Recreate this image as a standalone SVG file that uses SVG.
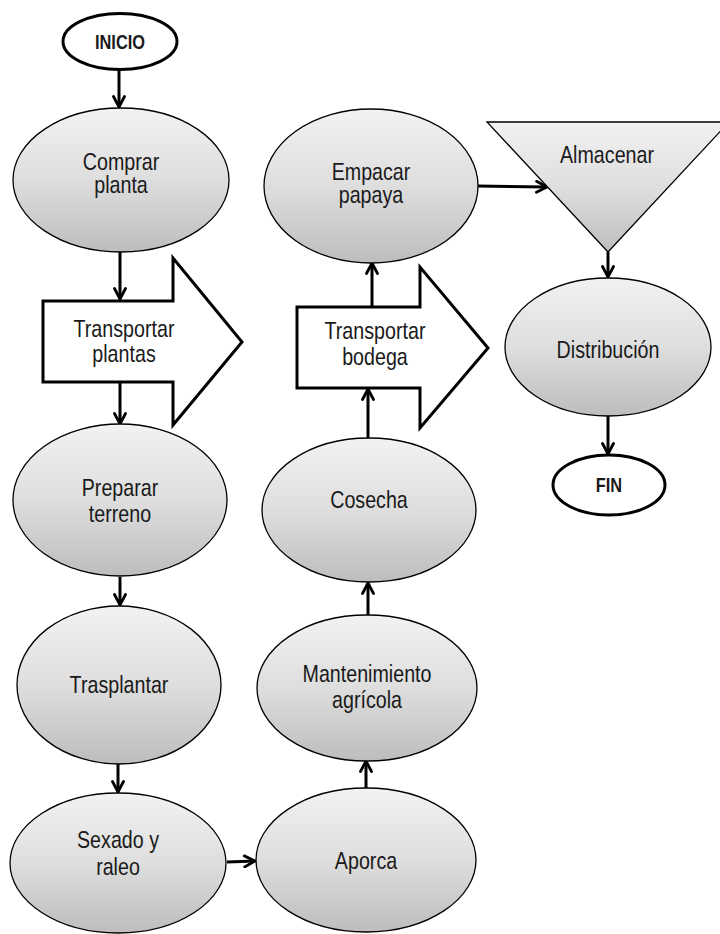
<svg xmlns="http://www.w3.org/2000/svg" width="720" height="934" viewBox="0 0 720 934">
<defs>
<linearGradient id="g" x1="0" y1="0" x2="0" y2="1">
<stop offset="0" stop-color="#f2f2f2"/>
<stop offset="0.5" stop-color="#dedede"/>
<stop offset="1" stop-color="#bdbdbd"/>
</linearGradient>
<marker id="ah" viewBox="0 0 14 14" refX="12.5" refY="7" markerWidth="14" markerHeight="14" markerUnits="userSpaceOnUse" orient="auto">
<polyline points="2,1.5 12.5,7 2,12.5" fill="none" stroke="#000" stroke-width="2.8" stroke-linejoin="miter" stroke-linecap="round"/>
</marker>
</defs>
<style>
.n{fill:url(#g);stroke:#000;stroke-width:1.3}
.t{fill:#fff;stroke:#000;stroke-width:3}
.tb{fill:none;stroke:#000;stroke-width:3}
.c{fill:none;stroke:#000;stroke-width:3;marker-end:url(#ah)}
text{font-family:"Liberation Sans",Arial,sans-serif;font-size:24px;fill:#1a1a1a;text-anchor:middle}
.b{font-weight:bold;font-size:20px}
</style>
<g id="connectors">
<line class="c" x1="119" y1="70" x2="119" y2="107"/>
<line class="c" x1="120" y1="252" x2="120" y2="299"/>
<line class="c" x1="120" y1="382" x2="120" y2="424"/>
<line class="c" x1="120" y1="577" x2="120" y2="605"/>
<line class="c" x1="118" y1="764" x2="118" y2="792"/>
<line class="c" x1="227" y1="862" x2="255" y2="861"/>
<line class="c" x1="366" y1="788" x2="366" y2="761"/>
<line class="c" x1="368" y1="615" x2="368" y2="583"/>
<line class="c" x1="368" y1="438" x2="368" y2="389"/>
<line class="c" x1="372" y1="307" x2="372" y2="263"/>
<line class="c" x1="478" y1="186" x2="547" y2="187"/>
<line class="c" x1="608" y1="252" x2="608" y2="277"/>
<line class="c" x1="608" y1="415" x2="608" y2="454"/>
</g>
<g id="inicio">
<ellipse class="tb" cx="120" cy="41.5" rx="57" ry="28"/>
<text class="b" transform="matrix(0.82 0 0 1 120 0)" y="49">INICIO</text>
</g>
<g id="comprar">
<ellipse class="n" cx="121" cy="180" rx="108" ry="72"/>
<text transform="matrix(0.82 0 0 1 121 0)" y="170">Comprar</text>
<text transform="matrix(0.82 0 0 1 121 0)" y="193">planta</text>
</g>
<g id="transportar-plantas">
<polygon class="t" points="43,301 173,301 173,258 242,342 173,425 173,382 43,382"/>
<text transform="matrix(0.82 0 0 1 124 0)" y="337">Transportar</text>
<text transform="matrix(0.82 0 0 1 124 0)" y="362">plantas</text>
</g>
<g id="preparar">
<ellipse class="n" cx="120" cy="500" rx="107" ry="76"/>
<text transform="matrix(0.82 0 0 1 120 0)" y="496">Preparar</text>
<text transform="matrix(0.82 0 0 1 120 0)" y="522">terreno</text>
</g>
<g id="trasplantar">
<ellipse class="n" cx="119" cy="685" rx="102" ry="79"/>
<text transform="matrix(0.82 0 0 1 119 0)" y="693">Trasplantar</text>
</g>
<g id="sexado">
<ellipse class="n" cx="118" cy="863" rx="108" ry="70"/>
<text transform="matrix(0.82 0 0 1 118 0)" y="848">Sexado y</text>
<text transform="matrix(0.82 0 0 1 118 0)" y="875">raleo</text>
</g>
<g id="aporca">
<ellipse class="n" cx="366" cy="860" rx="110" ry="72"/>
<text transform="matrix(0.82 0 0 1 366 0)" y="869">Aporca</text>
</g>
<g id="mantenimiento">
<ellipse class="n" cx="367" cy="688" rx="110" ry="73"/>
<text transform="matrix(0.82 0 0 1 367 0)" y="682">Mantenimiento</text>
<text transform="matrix(0.82 0 0 1 367 0)" y="708">agrícola</text>
</g>
<g id="cosecha">
<ellipse class="n" cx="369" cy="510" rx="107" ry="72"/>
<text transform="matrix(0.82 0 0 1 369 0)" y="508">Cosecha</text>
</g>
<g id="transportar-bodega">
<polygon class="t" points="297,307 420,307 420,267 488,348 420,428 420,388 297,388"/>
<text transform="matrix(0.82 0 0 1 375 0)" y="339">Transportar</text>
<text transform="matrix(0.82 0 0 1 375 0)" y="365">bodega</text>
</g>
<g id="empacar">
<ellipse class="n" cx="371" cy="186" rx="107" ry="77"/>
<text transform="matrix(0.82 0 0 1 371 0)" y="180">Empacar</text>
<text transform="matrix(0.82 0 0 1 371 0)" y="203">papaya</text>
</g>
<g id="almacenar">
<polygon class="n" points="487,122 729,122 608,252"/>
<text transform="matrix(0.82 0 0 1 607 0)" y="163">Almacenar</text>
</g>
<g id="distribucion">
<ellipse class="n" cx="608" cy="347" rx="103" ry="69"/>
<text transform="matrix(0.82 0 0 1 608 0)" y="358">Distribución</text>
</g>
<g id="fin">
<ellipse class="tb" cx="609" cy="485" rx="56" ry="30"/>
<text class="b" transform="matrix(0.82 0 0 1 609 0)" y="492">FIN</text>
</g>
</svg>
